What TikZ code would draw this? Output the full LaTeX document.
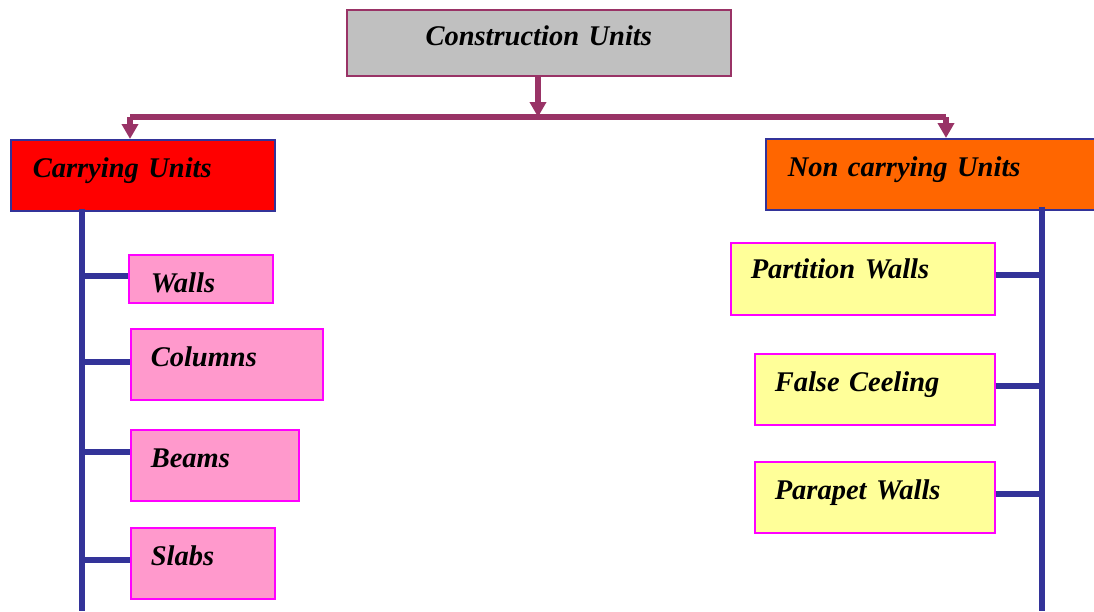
\documentclass[tikz,border=0pt]{standalone}
\usepackage{fontspec}
\setmainfont{Liberation Serif}
\usetikzlibrary{arrows.meta}
\definecolor{maroonline}{HTML}{993366}
\definecolor{blueline}{HTML}{333399}
\definecolor{greybox}{HTML}{C0C0C0}
\definecolor{pinkbox}{HTML}{FF99CC}
\definecolor{yellowbox}{HTML}{FFFF99}
\definecolor{orangebox}{HTML}{FF6600}
\definecolor{redbox}{HTML}{FF0000}
\definecolor{partline}{HTML}{FF00FF}
\tikzset{
  unit/.style={draw, line width=1.5pt, anchor=north west, inner xsep=20pt, inner ysep=0pt,
    text height=38pt, text depth=33pt, align=left,
    font=\bfseries\itshape\fontsize{28.5}{34}\selectfont},
  group unit/.style={unit, draw=blueline, inner xsep=22pt},
  part unit/.style={unit, draw=partline},
  bus/.style={maroonline, line width=5.5pt},
  down arrow/.style={bus, -{Triangle[width=16pt,length=15pt]}},
  trunk/.style={blueline, line width=5.5pt}
}
\begin{document}
\begin{tikzpicture}[x=1pt, y=-1pt]
  \useasboundingbox (0,0) rectangle (1094,611);

  % main box
  \node[unit, draw=maroonline, fill=greybox, align=center, text width=344pt,
    text height=36pt, text depth=30pt] (construction) at (346,9) {Construction Units};

  % the two groups
  \node[group unit, fill=redbox, text width=220pt] (carrying) at (10,139) {Carrying Units};
  \node[group unit, fill=orangebox, text width=296pt] (noncarrying) at (765,138) {Non carrying Units};

  % carrying parts
  \node[part unit, fill=pinkbox, text width=100pt, text depth=10pt, inner xsep=22pt] (walls) at (128,254) {Walls};
  \node[part unit, fill=pinkbox, text width=152pt] (columns) at (130,328) {Columns};
  \node[part unit, fill=pinkbox, text width=128pt] (beams) at (130,429) {Beams};
  \node[part unit, fill=pinkbox, text width=104pt] (slabs) at (130,527) {Slabs};

  % non carrying parts
  \node[part unit, fill=yellowbox, text width=224pt, text height=36pt, text depth=36pt] (partition) at (730,242) {Partition Walls};
  \node[part unit, fill=yellowbox, text width=200pt] (ceeling) at (754,353) {False Ceeling};
  \node[part unit, fill=yellowbox, text width=200pt] (parapet) at (754,461) {Parapet Walls};

  % bus under the main box
  \coordinate (split) at (538,117);
  \coordinate (bus_l) at (130,117);
  \coordinate (bus_r) at (946,117);
  \draw[bus] (bus_l) -- (bus_r);
  \draw[down arrow] (construction.south -| split) -- (split);
  \draw[down arrow] (bus_l) -- (bus_l |- carrying.north);
  \draw[down arrow] (bus_r) -- (bus_r |- noncarrying.north);

  % trunks
  \coordinate (trunk_l) at (82,611);
  \coordinate (trunk_r) at (1042,611);
  \draw[trunk] (trunk_l |- carrying.south) ++(0,-3) -- (trunk_l);
  \draw[trunk] (trunk_r |- noncarrying.south) ++(0,-4) -- (trunk_r);

  % branches
  \foreach \part/\y in {walls/276, columns/362, beams/452, slabs/560}
    \draw[trunk] (trunk_l |- 0,\y) -- (\part.west |- 0,\y);
  \foreach \part/\y in {partition/275, ceeling/386, parapet/494}
    \draw[trunk] (\part.east |- 0,\y) -- (trunk_r |- 0,\y);
\end{tikzpicture}
\end{document}
